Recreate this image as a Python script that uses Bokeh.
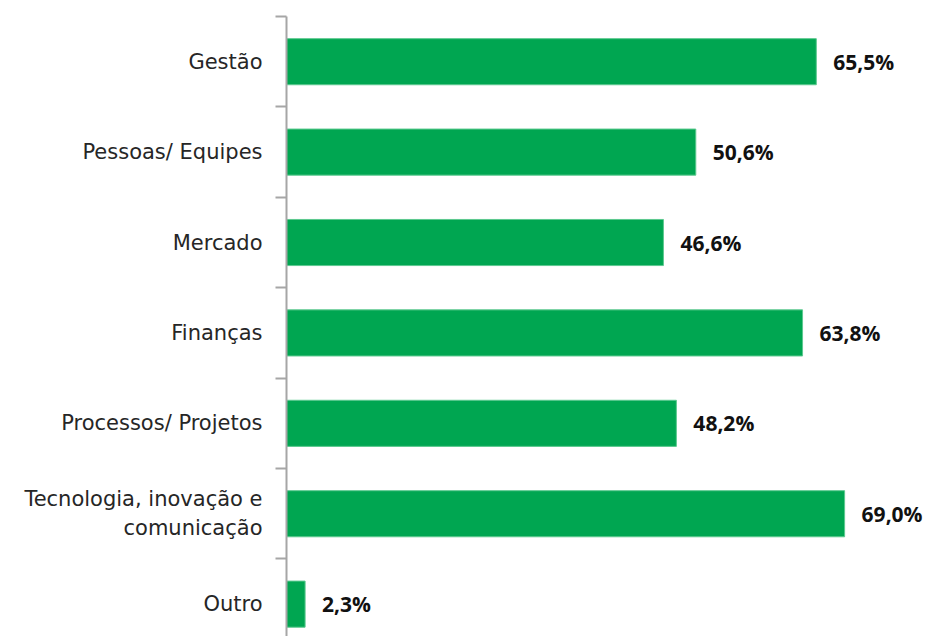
from bokeh.plotting import figure
from bokeh.models import Range1d, FixedTicker, ColumnDataSource
from bokeh.core.properties import value
from bokeh.embed import file_html
from bokeh.resources import INLINE

categories = ["Gestão", "Pessoas/ Equipes", "Mercado", "Finanças",
              "Processos/ Projetos", "Tecnologia, inovação e\ncomunicação", "Outro"]
values = [65.5, 50.6, 46.6, 63.8, 48.2, 69.0, 2.3]
value_labels = ["65,5%", "50,6%", "46,6%", "63,8%", "48,2%", "69,0%", "2,3%"]

n = len(categories)
ypos = [n - i - 0.5 for i in range(n)]
boundaries = [float(b) for b in range(n + 1)]

src = ColumnDataSource(dict(y=ypos, v=values, lab=value_labels))

p = figure(width=925, height=636, output_backend="svg", toolbar_location=None,
           x_range=Range1d(0, 79), y_range=Range1d(0.142, 7),
           min_border_left=286, min_border_top=16, min_border_bottom=0, min_border_right=0)
p.outline_line_color = None
p.grid.visible = False
p.xaxis.visible = False

p.hbar(y="y", right="v", left=0, height=0.51, source=src,
       fill_color="#00A651", line_color="#5cc98f", line_width=1)
p.text(x="v", y="y", text="lab", source=src, x_offset=17,
       text_align="left", text_baseline="middle",
       text_font=value("Open Sans"), text_font_style="bold",
       text_font_size="21px", text_color="#111111")

ax = p.yaxis[0]
ax.ticker = FixedTicker(ticks=ypos, minor_ticks=boundaries)
ax.major_label_overrides = {y: c for y, c in zip(ypos, categories)}
ax.axis_line_color = "#a6a6a6"
ax.axis_line_width = 2
ax.major_tick_line_color = None
ax.major_tick_out = 0
ax.major_tick_in = 0
ax.minor_tick_line_color = "#a6a6a6"
ax.minor_tick_line_width = 2
ax.minor_tick_out = 11
ax.minor_tick_in = 0
ax.major_label_standoff = 13
ax.major_label_text_font = "DejaVu Sans"
ax.major_label_text_font_size = "21px"
ax.major_label_text_color = "#262626"

open("out.html", "w").write(file_html(p, INLINE))
